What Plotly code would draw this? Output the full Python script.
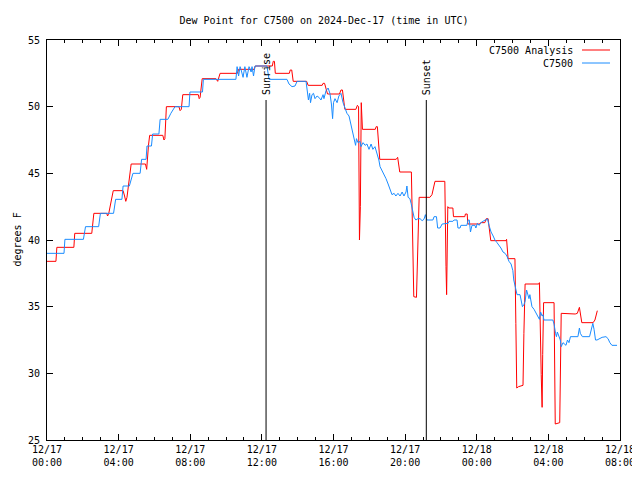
import pandas as pd
import plotly.graph_objects as go

# ---------------- data (minutes after 2024-12-17 00:00 UTC, deg F) ----------------
red_min = [0, 30, 33, 90, 93, 150, 157, 200, 203, 207, 222, 255, 260, 264, 268, 282, 330, 334, 340, 344,
           388, 392, 395, 400, 442, 446, 450, 455, 507, 510, 513, 520, 563, 566, 572, 580, 638, 642, 694, 698,
           755, 758, 762, 765, 812, 815, 820, 825, 870, 875, 922, 925, 930, 940, 980, 985, 990, 998, 1035, 1040,
           1044, 1047, 1050, 1053, 1057, 1100, 1103, 1107, 1115, 1170, 1175, 1182, 1221, 1226, 1229, 1238, 1242, 1247,
           1283, 1290, 1300, 1333, 1337, 1339, 1343, 1346, 1360, 1362, 1400, 1402, 1408, 1410, 1450, 1453, 1467, 1472,
           1478, 1487, 1538, 1540, 1545, 1568, 1571, 1574, 1580, 1595, 1598, 1602, 1648, 1650, 1656, 1659, 1661, 1664,
           1699, 1701, 1703, 1718, 1720, 1723, 1770, 1777, 1784, 1792, 1830, 1836, 1844]
red_val = [38.4, 38.4, 39.45, 39.45, 40.5, 40.5, 42.0, 42.0, 41.8, 42.0, 43.7, 43.7, 43.3, 42.9, 43.2, 45.7, 45.7, 45.3, 47.1, 47.85,
           47.85, 47.5, 47.6, 50.0, 50.0, 49.7, 49.8, 50.9, 50.9, 50.6, 50.7, 52.1, 52.1, 52.1, 51.9, 52.5, 52.5, 52.8, 52.8, 53.05,
           53.05, 53.4, 53.4, 52.5, 52.5, 52.75, 52.75, 51.9, 51.9, 51.6, 51.6, 51.75, 51.75, 50.95, 50.95, 51.25, 51.25, 49.8, 49.8, 50.1,
           50.0, 40.0, 42.5, 50.3, 48.3, 48.3, 48.5, 48.5, 46.05, 46.05, 46.2, 45.1, 45.1, 38.1, 35.75, 35.7, 38.5, 43.2,
           43.2, 43.4, 44.4, 44.4, 38.0, 35.9, 42.5, 42.4, 42.4, 41.75, 41.75, 41.95, 41.95, 41.2, 41.2, 41.3, 41.3, 41.6,
           41.6, 39.95, 39.95, 40.05, 38.6, 38.6, 33.75, 28.9, 29.0, 29.1, 33.0, 36.7, 36.7, 36.8, 29.9, 27.45, 31.4, 35.3,
           35.3, 30.8, 26.2, 26.3, 30.5, 34.5, 34.45, 34.5, 34.95, 33.8, 33.8, 34.0, 34.7]

blue_min = [0, 57, 60, 122, 129, 173, 179, 223, 230, 251, 255, 276, 288, 312, 317, 332, 335, 350, 354, 375,
            379, 405, 415, 429, 476, 479, 521, 524, 633, 637, 642, 647, 650, 657, 663, 670, 677, 684, 687, 692,
            697, 737, 744, 804, 811, 821, 831, 838, 868, 873, 876, 880, 883, 888, 893, 898, 905, 911, 918, 925,
            928, 935, 942, 948, 953, 957, 960, 965, 972, 978, 985, 992, 999, 1005, 1012, 1019, 1024, 1029, 1034, 1037,
            1042, 1049, 1052, 1059, 1066, 1072, 1079, 1086, 1092, 1099, 1106, 1112, 1116, 1123, 1129, 1136, 1143, 1149,
            1156, 1163, 1169, 1176, 1183, 1190, 1196, 1203, 1206, 1210, 1216, 1220, 1225, 1230, 1236, 1243, 1250, 1257,
            1263, 1268, 1273, 1283, 1293, 1297, 1305, 1309, 1317, 1324, 1334, 1344, 1347, 1360, 1364, 1374, 1377, 1384,
            1387, 1407, 1411, 1415, 1419, 1424, 1434, 1437, 1442, 1448, 1454, 1461, 1468, 1473, 1476, 1481, 1488, 1495,
            1501, 1508, 1515, 1521, 1528, 1535, 1541, 1548, 1555, 1558, 1561, 1564, 1568, 1571, 1575, 1585, 1588, 1593,
            1598, 1602, 1607, 1610, 1615, 1618, 1622, 1625, 1632, 1639, 1645, 1650, 1654, 1659, 1662, 1665, 1695, 1699,
            1704, 1707, 1710, 1715, 1720, 1723, 1729, 1739, 1744, 1749, 1754, 1779, 1784, 1787, 1794, 1818, 1824, 1829,
            1833, 1838, 1843, 1860, 1873, 1880, 1886, 1893, 1910]
blue_val = [39.0, 39.0, 40.05, 40.05, 41.0, 41.0, 42.0, 42.0, 43.05, 43.05, 44.05, 44.05, 45.0, 45.0, 46.05, 46.05, 47.05, 47.05, 47.95, 47.95,
            49.05, 49.05, 49.5, 50.0, 50.0, 51.1, 51.1, 52.05, 52.05, 53.0, 52.3, 53.0, 52.8, 52.2, 53.0, 52.2, 53.0, 52.6, 53.0, 52.3,
            53.05, 53.05, 52.05, 52.05, 51.7, 51.5, 51.55, 51.9, 51.9, 51.2, 50.5, 51.0, 50.3, 50.9, 51.0, 50.6, 50.8, 50.7, 50.5, 50.9,
            50.6, 51.2, 51.4, 51.0, 50.2, 49.1, 50.3, 50.6, 50.3, 50.8, 51.0, 50.3, 49.9, 49.5, 49.3, 48.6, 48.0, 47.5, 47.1, 47.6,
            47.3, 47.4, 47.0, 47.3, 47.1, 47.2, 46.8, 47.2, 46.8, 47.0, 46.5, 46.0, 45.5, 45.2, 45.0, 44.6, 44.2, 43.8,
            43.4, 43.5, 43.3, 43.5, 43.3, 43.6, 43.3, 43.6, 44.05, 43.2, 43.1, 42.75, 42.1, 41.7, 41.5, 41.6, 41.6, 41.45,
            41.55, 41.9, 41.5, 41.5, 41.5, 41.75, 41.75, 40.9, 40.9, 41.2, 41.25, 41.25, 41.4, 41.4, 41.5, 41.5, 40.9, 40.9,
            41.1, 41.1, 41.5, 41.5, 40.6, 41.1, 41.1, 40.9, 41.25, 41.1, 41.3, 41.4, 41.5, 41.5, 41.6, 41.1, 40.6, 40.3,
            40.0, 39.8, 39.6, 39.4, 39.1, 39.0, 38.8, 38.4, 38.2, 38.0, 37.7, 37.0, 36.6, 36.1, 35.9, 35.9, 35.5, 35.0,
            35.15, 35.4, 36.25, 36.0, 35.6, 35.9, 35.2, 35.0, 34.8, 34.5, 34.2, 34.05, 34.6, 34.3, 34.4, 34.0, 34.0, 33.7,
            33.0, 32.75, 33.1, 32.7, 32.5, 32.0, 32.3, 32.1, 32.5, 32.3, 32.75, 32.75, 33.4, 33.0, 32.75, 32.75, 33.3, 33.75,
            33.3, 32.5, 32.5, 32.7, 32.75, 32.6, 32.3, 32.1, 32.1]

sun_events = ["Sunrise", "Sunset"]
sun_times = ["2024-12-17 12:14", "2024-12-17 21:11"]
sun_line_top = 50.5

title_text = "Dew Point for C7500 on 2024-Dec-17 (time in UTC)"
y_title = "degrees F"
series_names = ["C7500 Analysis", "C7500"]
series_colors = ["#ff0000", "#1a8cff"]

base = pd.Timestamp("2024-12-17 00:00")
red_t = base + pd.to_timedelta(red_min, unit="min")
blue_t = base + pd.to_timedelta(blue_min, unit="min")

FONT = "DejaVu Sans Mono"
OFF = 8  # page body margin of the browser

W, H = 640 - OFF, 480 - OFF
L, T = 47 - OFF, 40 - OFF
R, B = W - (620 - OFF), H - (440 - OFF)
PW, PH = W - L - R, H - T - B

fig = go.Figure()
fig.add_trace(go.Scatter(x=red_t, y=red_val, mode="lines", name=series_names[0],
                         line=dict(color=series_colors[0], width=1), showlegend=False))
fig.add_trace(go.Scatter(x=blue_t, y=blue_val, mode="lines", name=series_names[1],
                         line=dict(color=series_colors[1], width=1), showlegend=False))

for name, t in zip(sun_events, sun_times):
    fig.add_shape(type="line", xref="x", yref="y", x0=t, x1=t, y0=25, y1=sun_line_top,
                  line=dict(color="black", width=1))
    fig.add_annotation(x=t, y=sun_line_top, xref="x", yref="y", text=name, textangle=-90,
                       showarrow=False, yanchor="bottom", xanchor="center", yshift=3,
                       font=dict(family=FONT, size=10, color="black"))

# legend (text left, sample right, as in the reference)
for i, (name, col) in enumerate(zip(series_names, series_colors)):
    ypix = 50 + 13 * i
    yp = 1 - (ypix - 40) / PH
    fig.add_annotation(xref="paper", yref="paper", x=(575 - 47) / PW, y=yp, text=name,
                       showarrow=False, xanchor="right", yanchor="middle",
                       font=dict(family=FONT, size=10, color="black"))
    fig.add_shape(type="line", xref="paper", yref="paper", x0=(582 - 47) / PW, x1=(610 - 47) / PW,
                  y0=yp, y1=yp, line=dict(color=col, width=1))

# y-axis title, kept just inside the figure's left edge
fig.add_annotation(xref="paper", yref="paper", x=-(L - 1) / PW, y=0.5, text=y_title,
                   textangle=-90, showarrow=False, xanchor="left", yanchor="middle",
                   font=dict(family=FONT, size=10, color="black"))

fig.update_layout(
    width=W, height=H,
    margin=dict(l=L, r=R, t=T, b=B, autoexpand=False),
    paper_bgcolor="white", plot_bgcolor="white",
    font=dict(family=FONT, size=10, color="black"),
    title=dict(text=title_text, x=0.5, xanchor="center", y=1 - (20 - OFF) / H, yanchor="middle",
               font=dict(family=FONT, size=10, color="black")),
)
fig.update_xaxes(
    type="date", range=["2024-12-17 00:00", "2024-12-18 08:00"], automargin=False,
    showline=True, linecolor="black", linewidth=1, mirror="ticks",
    ticks="inside", ticklen=6, tickcolor="black",
    dtick=4 * 3600 * 1000, tick0="2024-12-17 00:00", tickformat="%m/%d<br>%H:%M",
    minor=dict(dtick=3600 * 1000, ticks="inside", ticklen=3, tickcolor="black", showgrid=False),
    showgrid=False, zeroline=False,
    tickfont=dict(family=FONT, size=10, color="black"),
)
fig.update_yaxes(
    range=[25, 55], dtick=5, tick0=25, automargin=False,
    showline=True, linecolor="black", linewidth=1, mirror="ticks",
    ticks="inside", ticklen=6, tickcolor="black", ticklabelstandoff=4,
    showgrid=False, zeroline=False,
    tickfont=dict(family=FONT, size=10, color="black"),
)

fig.write_html("out.html")
